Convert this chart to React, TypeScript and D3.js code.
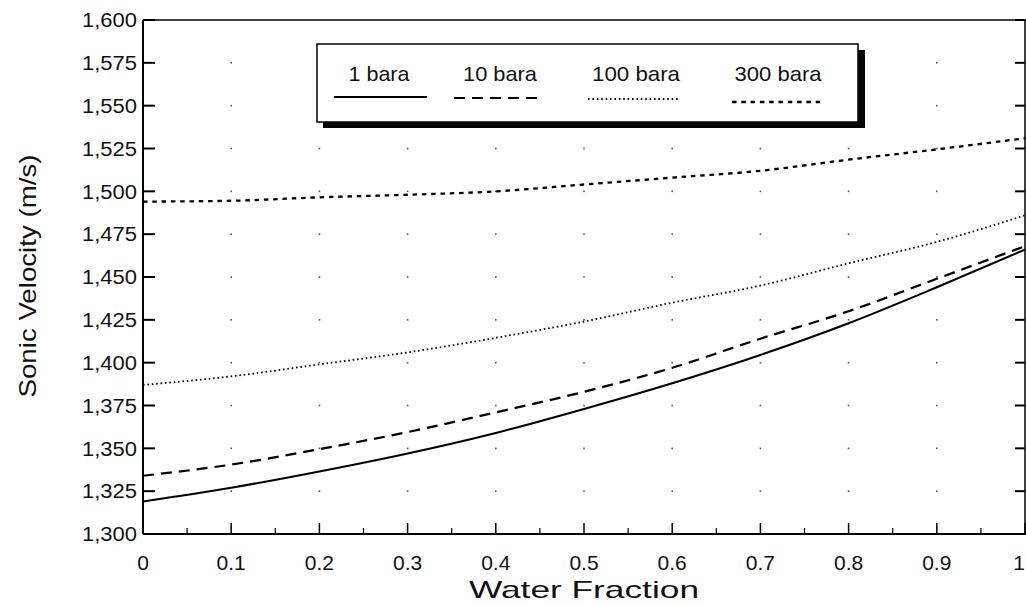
import React from "react";
import * as d3 from "d3";

const waterFraction = [0, 0.1, 0.2, 0.3, 0.4, 0.5, 0.6, 0.7, 0.8, 0.9, 1.0];
const bara1 = [1319, 1327, 1336.5, 1347, 1359, 1373, 1388, 1404.5, 1423, 1444, 1466];
const bara10 = [1334, 1340.5, 1349.5, 1359.5, 1371, 1383, 1397, 1414, 1430, 1449, 1468];
const bara100 = [1387, 1392, 1399, 1406, 1414.5, 1424, 1435, 1445, 1458, 1470.5, 1486];
const bara300 = [1494, 1494.5, 1496.5, 1498, 1500, 1504, 1508, 1512, 1518.5, 1524.5, 1531];

const seriesNames = ["1 bara", "10 bara", "100 bara", "300 bara"];
const yTicks = [1300, 1325, 1350, 1375, 1400, 1425, 1450, 1475, 1500, 1525, 1550, 1575, 1600];
const xTicks = [0, 0.1, 0.2, 0.3, 0.4, 0.5, 0.6, 0.7, 0.8, 0.9, 1];
const xMinorTicks = [0.05, 0.15, 0.25, 0.35, 0.45, 0.55, 0.65, 0.75, 0.85, 0.95];

const W = 1026;
const H = 606;
const FONT = "'Liberation Sans', Arial, Helvetica, sans-serif";

export default function App() {
  const x = d3.scaleLinear().domain([0, 1]).range([143, 1025]);
  const y = d3.scaleLinear().domain([1300, 1600]).range([534, 20]);

  const line = d3
    .line<number>()
    .x((_, i) => x(waterFraction[i]))
    .y((d) => y(d))
    .curve(d3.curveMonotoneX);

  const styles = [
    { dash: "none", w: 2 },
    { dash: "11,7", w: 2.2 },
    { dash: "1.6,2.8", w: 1.8 },
    { dash: "4.5,4.8", w: 2.3 },
  ];
  const data = [bara1, bara10, bara100, bara300];
  const fmt = d3.format(",");

  const legendText = [
    { x: 379, w: 61, lx1: 334, lx2: 427, ly: 97 },
    { x: 500, w: 74, lx1: 454, lx2: 542, ly: 98 },
    { x: 636, w: 88, lx1: 588, lx2: 680, ly: 99 },
    { x: 778, w: 87, lx1: 732, lx2: 822, ly: 102 },
  ];

  return (
    <svg
      width={W}
      height={H}
      style={{ position: "absolute", left: 0, top: 0, background: "#fff" }}
      fontFamily={FONT}
    >
      <rect x={0} y={0} width={W} height={H} fill="#fff" />
      {/* grid dots */}
      {xTicks.slice(1, 10).map((xv) =>
        yTicks.slice(1, 12).map((yv) => (
          <rect
            key={`g${xv}-${yv}`}
            x={x(xv) - 0.8}
            y={y(yv) - 0.8}
            width={1.6}
            height={1.6}
            fill="#555"
          />
        ))
      )}
      {/* axes frame */}
      <line x1={x(0)} y1={y(1300)} x2={x(0)} y2={y(1600)} stroke="#000" strokeWidth={2} />
      <line x1={x(0)} y1={y(1300)} x2={W} y2={y(1300)} stroke="#000" strokeWidth={2} />
      <line x1={x(0)} y1={y(1600)} x2={W} y2={y(1600)} stroke="#000" strokeWidth={1.5} />
      <line x1={x(1)} y1={y(1300)} x2={x(1)} y2={y(1600)} stroke="#000" strokeWidth={1.5} />
      {/* y ticks left + right */}
      {yTicks.map((t) => (
        <g key={`yt${t}`}>
          <line x1={x(0)} x2={x(0) + 12} y1={y(t)} y2={y(t)} stroke="#000" strokeWidth={2} />
          <line x1={x(1) - 10} x2={x(1)} y1={y(t)} y2={y(t)} stroke="#000" strokeWidth={2} />
          <text
            x={137}
            y={y(t)}
            dy="0.36em"
            textAnchor="end"
            fontSize={20}
            textLength={55}
            lengthAdjust="spacingAndGlyphs"
            fill="#111"
          >
            {fmt(t)}
          </text>
        </g>
      ))}
      {/* x ticks */}
      {xTicks.map((t, i) => (
        <g key={`xt${t}`}>
          <line x1={x(t)} x2={x(t)} y1={y(1300)} y2={y(1300) - 11} stroke="#000" strokeWidth={1.5} />
          <text
            x={i === xTicks.length - 1 ? x(t) : x(t)}
            y={570}
            textAnchor={i === xTicks.length - 1 ? "end" : "middle"}
            fontSize={21}
            fill="#111"
          >
            {String(t)}
          </text>
        </g>
      ))}
      {xMinorTicks.map((t) => (
        <line key={`xm${t}`} x1={x(t)} x2={x(t)} y1={y(1300)} y2={y(1300) - 6} stroke="#000" strokeWidth={1.2} />
      ))}
      {/* series */}
      {data.map((d, i) => (
        <path
          key={seriesNames[i]}
          d={line(d) || ""}
          fill="none"
          stroke="#000"
          strokeWidth={styles[i].w}
          strokeDasharray={styles[i].dash}
        />
      ))}
      {/* legend */}
      <rect x={323} y={50} width={542} height={78} fill="#000" />
      <rect x={317} y={44} width={541} height={78} fill="#fff" stroke="#000" strokeWidth={1.5} />
      {legendText.map((l, i) => (
        <g key={`lg${i}`}>
          <text
            x={l.x}
            y={81}
            textAnchor="middle"
            fontSize={21}
            textLength={l.w}
            lengthAdjust="spacingAndGlyphs"
            fill="#111"
          >
            {seriesNames[i]}
          </text>
          <line
            x1={l.lx1}
            x2={l.lx2}
            y1={l.ly}
            y2={l.ly}
            stroke="#000"
            strokeWidth={styles[i].w}
            strokeDasharray={styles[i].dash}
          />
        </g>
      ))}
      {/* axis titles */}
      <text
        x={584}
        y={598}
        textAnchor="middle"
        fontSize={24}
        textLength={230}
        lengthAdjust="spacingAndGlyphs"
        fill="#111"
      >
        Water Fraction
      </text>
      <text
        transform="translate(36,276) rotate(-90)"
        textAnchor="middle"
        fontSize={24}
        textLength={243}
        lengthAdjust="spacingAndGlyphs"
        fill="#111"
      >
        Sonic Velocity (m/s)
      </text>
    </svg>
  );
}
